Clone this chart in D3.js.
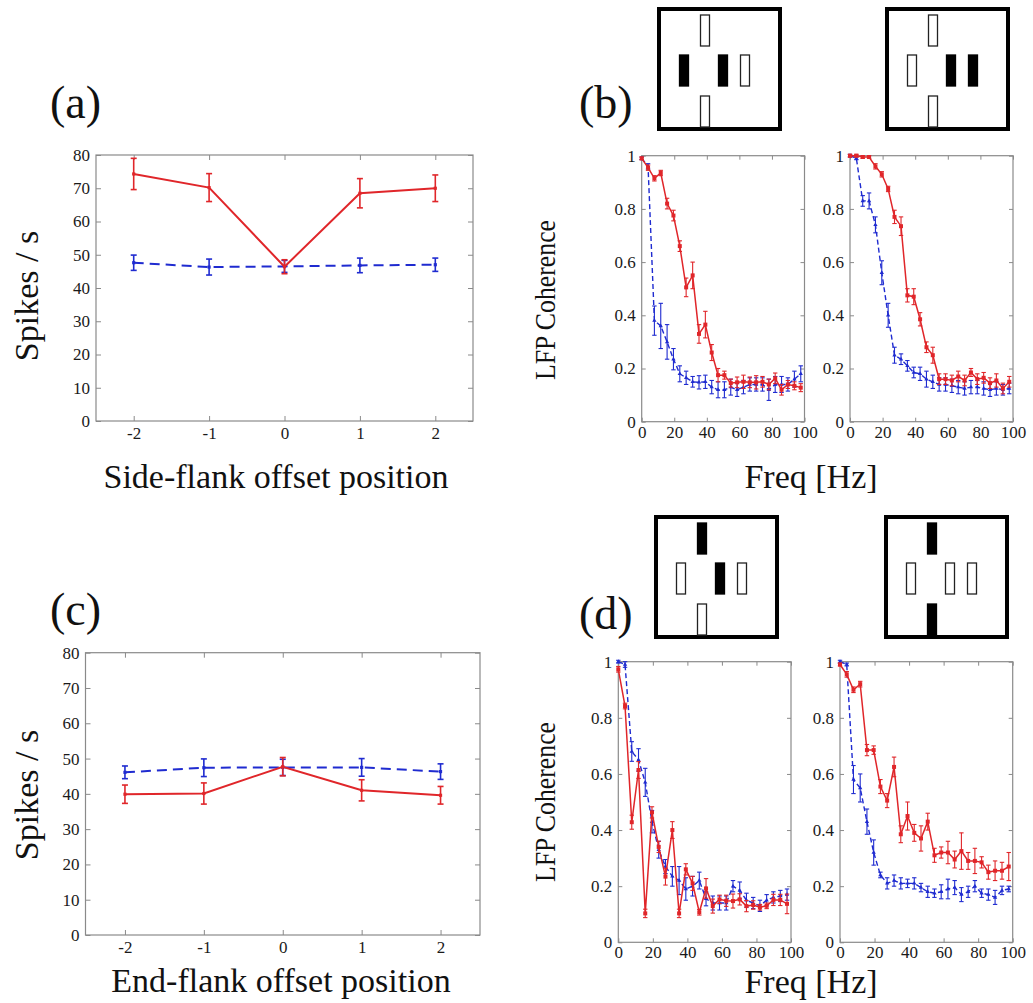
<!DOCTYPE html>
<html>
<head>
<meta charset="utf-8">
<script src="https://cdn.jsdelivr.net/npm/d3@7/dist/d3.min.js"></script>
<style>
  html, body { margin: 0; padding: 0; background: #fff; }
  svg { display: block; }
  text { font-family: "Liberation Serif", "DejaVu Serif", serif; }
</style>
</head>
<body>
<svg id="fig" width="1033" height="1003"></svg>
<script>
// ---------- spike-rate data (offset positions) ----------
const offsetPositions = [-2, -1, 0, 1, 2];
const offsetTicks = [-2, -1, 0, 1, 2];
const spikeTicks = [0, 10, 20, 30, 40, 50, 60, 70, 80];

const sideFlankRed     = [74.3, 70.2, 46.4, 68.5, 70.0];
const sideFlankRedErr  = [4.7, 4.2, 2.1, 4.4, 4.0];
const sideFlankBlue    = [47.6, 46.3, 46.5, 46.8, 47.0];
const sideFlankBlueErr = [2.3, 2.4, 1.8, 2.2, 2.0];

const endFlankRed      = [39.9, 40.1, 47.7, 41.0, 39.6];
const endFlankRedErr   = [2.6, 3.0, 2.6, 3.0, 2.5];
const endFlankBlue     = [46.1, 47.4, 47.5, 47.5, 46.3];
const endFlankBlueErr  = [1.8, 2.5, 2.3, 2.5, 2.2];

// ---------- LFP coherence spectra ----------
const freqHz = [0, 3.9, 7.8, 11.7, 15.6, 19.5, 23.4, 27.3, 31.3, 35.2, 39.1, 43.0, 46.9,
                50.8, 54.7, 58.6, 62.5, 66.4, 70.3, 74.2, 78.1, 82.0, 85.9, 89.8, 93.8, 97.7];
const freqTicks = [0, 20, 40, 60, 80, 100];
const cohTicks = [0, 0.2, 0.4, 0.6, 0.8, 1];

const cohB1Red     = [0.99, 0.955, 0.915, 0.935, 0.82, 0.775, 0.66, 0.505, 0.55, 0.33, 0.365, 0.26, 0.175,
                      0.175, 0.145, 0.148, 0.15, 0.148, 0.148, 0.15, 0.14, 0.163, 0.12, 0.14, 0.135, 0.128];
const cohB1RedErr  = [0.005, 0.01, 0.01, 0.01, 0.02, 0.02, 0.02, 0.035, 0.05, 0.035, 0.05, 0.03, 0.025,
                      0.015, 0.015, 0.02, 0.025, 0.02, 0.025, 0.02, 0.02, 0.02, 0.02, 0.015, 0.015, 0.015];
const cohB1Blue    = [0.99, 0.96, 0.38, 0.36, 0.30, 0.235, 0.18, 0.165, 0.15, 0.148, 0.15, 0.13, 0.12,
                      0.12, 0.13, 0.12, 0.13, 0.14, 0.14, 0.14, 0.12, 0.14, 0.14, 0.14, 0.16, 0.18];
const cohB1BlueErr = [0.005, 0.01, 0.055, 0.085, 0.065, 0.04, 0.03, 0.025, 0.02, 0.025, 0.025, 0.025, 0.03,
                      0.03, 0.03, 0.025, 0.025, 0.025, 0.025, 0.025, 0.04, 0.03, 0.03, 0.025, 0.03, 0.03];

const cohB2Red     = [1.0, 1.0, 0.995, 0.995, 0.96, 0.93, 0.875, 0.77, 0.735, 0.475, 0.47, 0.385, 0.28,
                      0.25, 0.16, 0.16, 0.155, 0.17, 0.155, 0.185, 0.16, 0.165, 0.145, 0.155, 0.125, 0.15];
const cohB2RedErr  = [0.005, 0.005, 0.005, 0.005, 0.01, 0.01, 0.01, 0.025, 0.035, 0.025, 0.03, 0.025, 0.02,
                      0.03, 0.02, 0.02, 0.02, 0.02, 0.02, 0.015, 0.02, 0.02, 0.02, 0.025, 0.02, 0.02];
const cohB2Blue    = [1.0, 0.99, 0.83, 0.83, 0.74, 0.56, 0.40, 0.25, 0.235, 0.21, 0.185, 0.18, 0.16,
                      0.15, 0.14, 0.14, 0.135, 0.13, 0.125, 0.13, 0.13, 0.125, 0.12, 0.125, 0.12, 0.125];
const cohB2BlueErr = [0.005, 0.005, 0.02, 0.03, 0.03, 0.045, 0.045, 0.03, 0.02, 0.02, 0.02, 0.025, 0.03,
                      0.025, 0.025, 0.025, 0.025, 0.025, 0.025, 0.025, 0.025, 0.025, 0.025, 0.025, 0.02, 0.02];

const cohD1Red     = [0.973, 0.842, 0.428, 0.614, 0.103, 0.463, 0.34, 0.234, 0.40, 0.103, 0.26, 0.21, 0.107,
                      0.192, 0.129, 0.153, 0.148, 0.147, 0.153, 0.129, 0.133, 0.125, 0.13, 0.151, 0.151, 0.137];
const cohD1RedErr  = [0.01, 0.01, 0.025, 0.03, 0.015, 0.02, 0.02, 0.03, 0.03, 0.015, 0.02, 0.025, 0.01,
                      0.035, 0.025, 0.015, 0.02, 0.025, 0.02, 0.02, 0.015, 0.01, 0.01, 0.02, 0.02, 0.035];
const cohD1Blue    = [1.0, 0.99, 0.68, 0.65, 0.57, 0.43, 0.33, 0.27, 0.235, 0.22, 0.19, 0.20, 0.22,
                      0.155, 0.14, 0.14, 0.14, 0.20, 0.185, 0.15, 0.14, 0.13, 0.15, 0.16, 0.165, 0.17];
const cohD1BlueErr = [0.005, 0.01, 0.035, 0.04, 0.05, 0.04, 0.03, 0.025, 0.035, 0.05, 0.04, 0.035, 0.03,
                      0.025, 0.025, 0.025, 0.025, 0.02, 0.03, 0.025, 0.02, 0.02, 0.02, 0.02, 0.02, 0.02];

const cohD2Red     = [0.99, 0.955, 0.90, 0.92, 0.685, 0.685, 0.555, 0.505, 0.625, 0.385, 0.45, 0.39, 0.37,
                      0.43, 0.31, 0.32, 0.32, 0.295, 0.325, 0.29, 0.29, 0.285, 0.25, 0.255, 0.255, 0.27];
const cohD2RedErr  = [0.005, 0.01, 0.01, 0.01, 0.02, 0.015, 0.025, 0.025, 0.035, 0.03, 0.05, 0.03, 0.045,
                      0.03, 0.025, 0.02, 0.04, 0.03, 0.065, 0.03, 0.045, 0.02, 0.025, 0.035, 0.03, 0.05];
const cohD2Blue    = [1.0, 0.99, 0.58, 0.55, 0.43, 0.32, 0.24, 0.21, 0.22, 0.21, 0.21, 0.21, 0.195,
                      0.18, 0.175, 0.18, 0.19, 0.195, 0.17, 0.18, 0.20, 0.175, 0.17, 0.16, 0.185, 0.19];
const cohD2BlueErr = [0.005, 0.005, 0.05, 0.05, 0.045, 0.045, 0.01, 0.02, 0.02, 0.02, 0.015, 0.02, 0.015,
                      0.02, 0.015, 0.025, 0.035, 0.025, 0.025, 0.02, 0.02, 0.015, 0.02, 0.025, 0.015, 0.01];

// ---------- stimulus icons: bar fill per slot (top, left, centre, right, bottom) ----------
const iconSlots = ["top", "left", "centre", "right", "bottom"];
const iconB1 = [false, true, true, false, false];
const iconB2 = [false, false, true, true, false];
const iconD1 = [true, false, true, false, false];
const iconD2 = [true, false, false, false, true];

// ---------- styles ----------
const RED = "#e0262a";
const BLUE = "#1f2bd0";
const FRAME = "#8a8a8a";
const TICK_FONT = 17;
const LABEL_FONT = 34;
const COH_LABEL_FONT = 30;
const TAG_FONT = 46;

const svg = d3.select("#fig");
svg.append("rect").attr("width", 1033).attr("height", 1003).attr("fill", "#fff");

// plain hyphen-minus integer labels
const intFmt = d => String(d);

function drawPanel(cfg) {
  const { x0, x1, y0, y1, xDomain, yDomain, xTicks, yTicks, xFmt, yFmt, series, tick } = cfg;
  const x = d3.scaleLinear().domain(xDomain).range([x0, x1]);
  const y = d3.scaleLinear().domain(yDomain).range([y1, y0]);
  const g = svg.append("g");

  const styleAxis = (sel) => {
    sel.select(".domain").remove();
    sel.selectAll(".tick line").attr("stroke", FRAME).attr("stroke-width", 1);
    sel.selectAll(".tick text").attr("fill", "#1a1a1a")
      .style("font-family", "'Liberation Serif', serif").style("font-size", TICK_FONT + "px");
  };

  g.append("g").attr("transform", `translate(0,${y1})`)
    .call(d3.axisBottom(x).tickValues(xTicks).tickFormat(xFmt).tickSizeInner(-tick).tickSizeOuter(0).tickPadding(cfg.xPad))
    .call(styleAxis);
  g.append("g").attr("transform", `translate(0,${y0})`)
    .call(d3.axisTop(x).tickValues(xTicks).tickFormat("").tickSizeInner(-tick).tickSizeOuter(0))
    .call(styleAxis);
  g.append("g").attr("transform", `translate(${x0},0)`)
    .call(d3.axisLeft(y).tickValues(yTicks).tickFormat(yFmt).tickSizeInner(-tick).tickSizeOuter(0).tickPadding(cfg.yPad))
    .call(styleAxis);
  g.append("g").attr("transform", `translate(${x1},0)`)
    .call(d3.axisRight(y).tickValues(yTicks).tickFormat("").tickSizeInner(-tick).tickSizeOuter(0))
    .call(styleAxis);

  g.append("rect").attr("x", x0).attr("y", y0).attr("width", x1 - x0).attr("height", y1 - y0)
    .attr("fill", "none").attr("stroke", FRAME).attr("stroke-width", 1.2);

  series.forEach(s => {
    const pts = s.xs.map((xv, i) => ({ x: xv, y: s.ys[i], e: s.err[i] }));
    const sg = g.append("g");
    // error bars
    pts.forEach(p => {
      const xp = x(p.x), ylo = y(p.y - p.e), yhi = y(p.y + p.e);
      sg.append("line").attr("x1", xp).attr("x2", xp).attr("y1", ylo).attr("y2", yhi)
        .attr("stroke", s.color).attr("stroke-width", s.errWidth);
      [ylo, yhi].forEach(yy => sg.append("line")
        .attr("x1", xp - s.cap).attr("x2", xp + s.cap).attr("y1", yy).attr("y2", yy)
        .attr("stroke", s.color).attr("stroke-width", s.errWidth));
    });
    // connecting line
    sg.append("path").datum(pts)
      .attr("d", d3.line().x(d => x(d.x)).y(d => y(d.y)))
      .attr("fill", "none").attr("stroke", s.color).attr("stroke-width", s.width)
      .attr("stroke-dasharray", s.dash || null);
    // markers
    const sym = d3.symbol().type(s.marker).size(s.markerSize);
    sg.selectAll(null).data(pts).enter().append("path")
      .attr("d", sym).attr("transform", d => `translate(${x(d.x)},${y(d.y)})`)
      .attr("fill", s.color);
  });
}

function tag(txt, xPos, yPos) {
  svg.append("text").attr("x", xPos).attr("y", yPos).text(txt)
    .style("font-size", TAG_FONT + "px").attr("fill", "#111");
}
function hLabel(txt, cx, yPos) {
  svg.append("text").attr("x", cx).attr("y", yPos).attr("text-anchor", "middle").text(txt)
    .style("font-size", LABEL_FONT + "px").attr("fill", "#111");
}
function vLabel(txt, cx, cy, size, fitLength) {
  const t = svg.append("text").attr("transform", `translate(${cx},${cy}) rotate(-90)`)
    .attr("text-anchor", "middle").attr("dominant-baseline", "middle").text(txt)
    .style("font-size", size + "px").attr("fill", "#111");
  if (fitLength) t.attr("textLength", fitLength).attr("lengthAdjust", "spacingAndGlyphs");
}

// stimulus icon: framed square with five short vertical bars
function drawIcon(bx, by, fills) {
  const g = svg.append("g").attr("transform", `translate(${bx},${by})`);
  g.append("rect").attr("x", 0).attr("y", 0).attr("width", 121).attr("height", 120)
    .attr("fill", "#fff").attr("stroke", "#000").attr("stroke-width", 4);
  const slots = {
    top:    { cx: 46, y: 6 },
    left:   { cx: 25, y: 46 },
    centre: { cx: 64, y: 46 },
    right:  { cx: 86, y: 46 },
    bottom: { cx: 46, y: 87 }
  };
  iconSlots.forEach((name, i) => {
    const s = slots[name];
    g.append("rect").attr("x", s.cx - 4.5).attr("y", s.y).attr("width", 9).attr("height", 31)
      .attr("fill", fills[i] ? "#000" : "#fff").attr("stroke", fills[i] ? "#000" : "#222")
      .attr("stroke-width", 1.3);
  });
}

const spikeSeries = (red, redErr, blue, blueErr) => [
  { xs: offsetPositions, ys: blue, err: blueErr, color: BLUE, width: 2, dash: "10,6",
    errWidth: 1.6, cap: 3, marker: d3.symbolSquare, markerSize: 10 },
  { xs: offsetPositions, ys: red, err: redErr, color: RED, width: 2,
    errWidth: 1.6, cap: 3, marker: d3.symbolSquare, markerSize: 10 }
];
const cohSeries = (red, redErr, blue, blueErr) => [
  { xs: freqHz, ys: blue, err: blueErr, color: BLUE, width: 1.4, dash: "5,3",
    errWidth: 1.1, cap: 2.2, marker: d3.symbolTriangle, markerSize: 8 },
  { xs: freqHz, ys: red, err: redErr, color: RED, width: 1.5,
    errWidth: 1.1, cap: 2.2, marker: d3.symbolSquare, markerSize: 16 }
];

// (a) side-flank spike rates
drawPanel({ x0: 96, x1: 473, y0: 155, y1: 421, xDomain: [-2.5, 2.5], yDomain: [0, 80],
  xTicks: offsetTicks, yTicks: spikeTicks, xFmt: intFmt, yFmt: intFmt,
  xPad: 6, yPad: 6, tick: 5,
  series: spikeSeries(sideFlankRed, sideFlankRedErr, sideFlankBlue, sideFlankBlueErr) });

// (c) end-flank spike rates
drawPanel({ x0: 85.5, x1: 480, y0: 652.7, y1: 935, xDomain: [-2.5, 2.5], yDomain: [0, 80],
  xTicks: offsetTicks, yTicks: spikeTicks, xFmt: intFmt, yFmt: intFmt,
  xPad: 6, yPad: 6, tick: 5,
  series: spikeSeries(endFlankRed, endFlankRedErr, endFlankBlue, endFlankBlueErr) });

const cohFmt = d => d === 0 ? "0" : d === 1 ? "1" : d3.format(".1f")(d);

// (b) coherence, side-flank configurations
drawPanel({ x0: 641.7, x1: 804.5, y0: 155.7, y1: 421.7, xDomain: [0, 100], yDomain: [0, 1],
  xTicks: freqTicks, yTicks: cohTicks, xFmt: intFmt, yFmt: cohFmt,
  xPad: 4, yPad: 6, tick: 4,
  series: cohSeries(cohB1Red, cohB1RedErr, cohB1Blue, cohB1BlueErr) });
drawPanel({ x0: 850, x1: 1013, y0: 155.7, y1: 421.7, xDomain: [0, 100], yDomain: [0, 1],
  xTicks: freqTicks, yTicks: cohTicks, xFmt: intFmt, yFmt: cohFmt,
  xPad: 4, yPad: 6, tick: 4,
  series: cohSeries(cohB2Red, cohB2RedErr, cohB2Blue, cohB2BlueErr) });

// (d) coherence, end-flank configurations
drawPanel({ x0: 618.3, x1: 791, y0: 661.7, y1: 942.3, xDomain: [0, 100], yDomain: [0, 1],
  xTicks: freqTicks, yTicks: cohTicks, xFmt: intFmt, yFmt: cohFmt,
  xPad: 4, yPad: 6, tick: 4,
  series: cohSeries(cohD1Red, cohD1RedErr, cohD1Blue, cohD1BlueErr) });
drawPanel({ x0: 840, x1: 1012.7, y0: 661.7, y1: 942.3, xDomain: [0, 100], yDomain: [0, 1],
  xTicks: freqTicks, yTicks: cohTicks, xFmt: intFmt, yFmt: cohFmt,
  xPad: 4, yPad: 6, tick: 4,
  series: cohSeries(cohD2Red, cohD2RedErr, cohD2Blue, cohD2BlueErr) });

// stimulus icons
drawIcon(659, 9, iconB1);
drawIcon(887, 9, iconB2);
drawIcon(656, 517, iconD1);
drawIcon(886, 517, iconD2);

// panel tags and axis labels
tag("(a)", 50, 118);
tag("(b)", 579, 118);
tag("(c)", 50, 625);
tag("(d)", 579, 629);

vLabel("Spikes / s", 30, 296, LABEL_FONT);
vLabel("Spikes / s", 30, 795, LABEL_FONT);
vLabel("LFP Coherence", 548, 300, COH_LABEL_FONT, 160);
vLabel("LFP Coherence", 548, 802, COH_LABEL_FONT, 160);

hLabel("Side-flank offset position", 276, 488);
hLabel("End-flank offset position", 281, 992);
hLabel("Freq [Hz]", 811, 488);
hLabel("Freq [Hz]", 811, 993);
</script>
</body>
</html>
